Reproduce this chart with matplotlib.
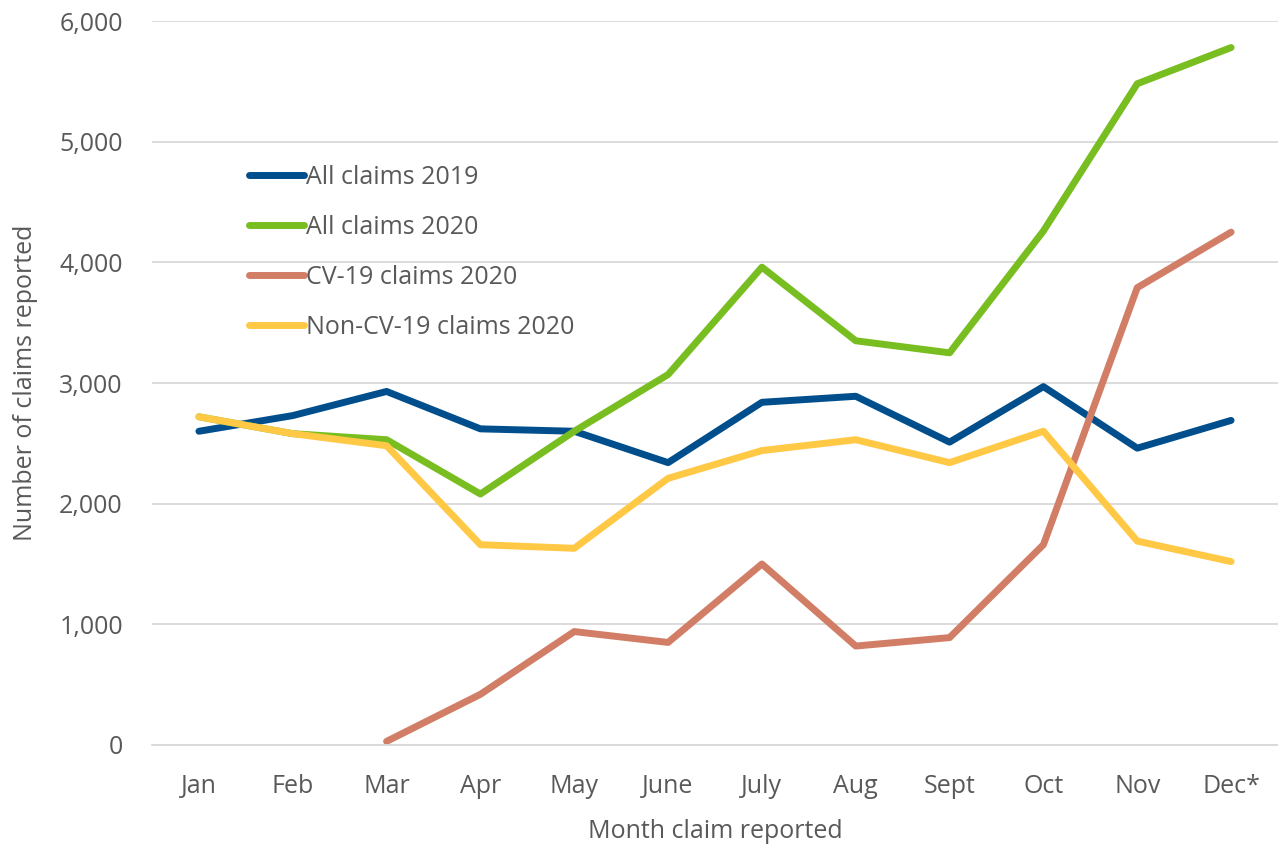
import matplotlib
matplotlib.use("Agg")
import matplotlib.pyplot as plt
import numpy as np

months = ["Jan", "Feb", "Mar", "Apr", "May", "June", "July", "Aug", "Sept", "Oct", "Nov", "Dec*"]
all_2019 = [2600, 2730, 2930, 2620, 2600, 2340, 2840, 2890, 2510, 2970, 2460, 2690]
all_2020 = [2720, 2580, 2530, 2080, 2600, 3070, 3960, 3350, 3250, 4260, 5480, 5780]
cv19_2020 = [np.nan, np.nan, 30, 420, 940, 850, 1500, 820, 890, 1660, 3790, 4250]
noncv_2020 = [2720, 2580, 2480, 1660, 1630, 2210, 2440, 2530, 2340, 2600, 1690, 1520]

series = [
    ("All claims 2019", all_2019, "#004f8c"),
    ("All claims 2020", all_2020, "#78be20"),
    ("CV-19 claims 2020", cv19_2020, "#d27d66"),
    ("Non-CV-19 claims 2020", noncv_2020, "#ffc845"),
]

plt.rcParams['font.family'] = ['Open Sans', 'DejaVu Sans']
text_col = "#595959"
fs = 18

fig = plt.figure(figsize=(12.78, 8.44), dpi=100)
ax = fig.add_axes([152/1278, 99/844, 1126/1278, 724/844])

x = np.arange(len(months))
for label, vals, col in series:
    ax.plot(x, vals, color=col, lw=5, label=label, solid_capstyle="round", solid_joinstyle="round")

ax.set_xlim(-0.5, 11.5)
ax.set_ylim(0, 6000)
ax.set_yticks(range(0, 6001, 1000))
ax.set_yticklabels([f"{v:,}" for v in range(0, 6001, 1000)])
ax.set_xticks(x)
ax.set_xticklabels(months)
ax.tick_params(length=0, labelsize=fs, colors=text_col)
ax.tick_params(axis="x", pad=21)
ax.tick_params(axis="y", pad=21)
ax.grid(axis="y", color="#d9d9d9", lw=1.3)
ax.set_axisbelow(True)
for s in ["top", "right", "left"]:
    ax.spines[s].set_visible(False)
ax.spines["bottom"].set_color("#d9d9d9")
ax.spines["bottom"].set_linewidth(1.3)

ax.set_xlabel("Month claim reported", fontsize=fs, color=text_col, labelpad=14)
ax.set_ylabel("Number of claims reported", fontsize=fs, color=text_col, labelpad=15)

ax.legend(loc="upper left", bbox_to_anchor=(0.066, 0.832), frameon=False, fontsize=fs,
          labelcolor=text_col, handlelength=2.2, handletextpad=0.1, labelspacing=1.0)

fig.savefig("out.png", dpi=100)
